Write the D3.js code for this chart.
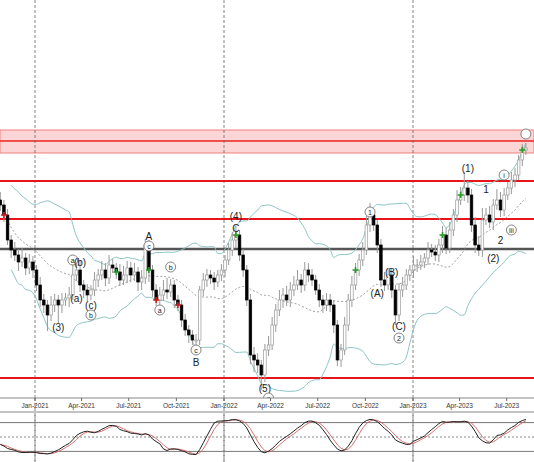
<!DOCTYPE html>
<html><head><meta charset="utf-8">
<script src="https://cdn.jsdelivr.net/npm/d3@7"></script>
<style>body{margin:0;background:#fff}text{font-family:"Liberation Sans",Arial,sans-serif}</style>
</head><body><svg id="c" width="534" height="462"></svg>
<script>
// weekly closes (price units), from 26 Oct 2020
const closes = [
  29.5,28.5,26.0,25.0,24.5, 23.8,24.2,23.2,23.8,23.0,
  21.5,20.0,19.5,18.5,19.5, 20.0,19.5,20.0,20.2,20.5,
  22.5,23.0,21.5,21.0,20.5, 21.0,22.0,22.5,23.0,22.2,
  23.5,23.2,22.8,22.0,22.5, 23.2,22.5,22.8,21.8,22.2,
  25.5,23.0,21.0,20.0,20.5, 21.0,20.8,21.5,20.0,19.5,
  18.0,17.0,16.5,16.0,16.0, 21.0,22.0,22.5,22.2,21.8,
  22.5,23.0,24.0,25.0,26.0, 26.5,24.5,23.0,20.0,14.5,
  14.0,13.5,12.5,15.0,15.5, 17.5,19.0,20.0,20.5,20.0,
  21.0,21.5,22.0,21.5,23.0, 22.5,22.0,21.0,20.0,19.5,
  20.0,19.5,17.5,14.0,15.0, 17.5,20.0,21.5,23.0,24.0,
  25.0,27.5,28.5,27.5,25.5, 22.0,21.5,22.5,21.0,18.5,
  21.0,21.5,22.5,23.0,23.5, 23.5,23.8,24.2,25.0,24.8,
  24.5,25.5,26.5,25.2,27.0, 28.5,30.0,30.5,31.2,30.5,
  27.5,25.5,25.0,28.0,28.5, 27.8,29.5,30.0,29.0,30.5,
  31.2,32.0,32.5,34.0,35.0, 35.2
];
const upWick = [
  .8,.5,.6,.5,.8, .6,1.0,.5,.8,.6, .5,.8,.6,.5,.9, .6,.5,.7,.5,.8,
  1.2,.8,.9,.5,.6, .5,.8,.6,.9,.7, 1.0,.6,.5,.8,.9, .7,.6,.9,.5,.8,
  .6,.5,.5,.6,.8, 1.0,1.2,.6,.5,.5, .5,.6,.5,.5,.6, .4,.7,.6,.5,.6,
  .5,.6,.5,.7,.8, .9,.5,.6,.5,.6, .8,.7,.5,.6,.9, .8,.6,1.0,.7,.9,
  .8,.9,1.0,.6,.8, .7,.6,.5,.6,.5, .7,.6,.5,.5,.6, .8,.6,.9,.7,.6,
  .8,.9,1.2,.6,.5, .6,.8,.7,.6,.5, .7,.8,.6,.5,.9, .6,.7,.5,.8,.6,
  .7,.6,.9,.7,.8, .6,1.0,.8,1.6,.7, .6,.8,.9,1.2,.7, .9,.6,1.1,.8,.7,
  .6,.8,.7,.5,.6, .5
];
const dnWick = [
  .6,.7,.5,.8,.6, .9,.5,.7,.6,.8, .6,.7,.8,1.6,.6, .7,1.8,.8,.6,.9,
  .5,.6,.7,.8,.6, .5,.6,.7,.5,.8, .6,.5,.7,.6,.5, .8,.7,.6,.9,.8,
  .6,1.2,.7,.6,.5, .6,.7,.5,.8,.6, .7,.6,.8,.5,.6, .5,.6,.7,.6,.8,
  .5,.6,.7,.5,.6, .8,.6,.7,.6,.9, 1.2,.8,1.5,.7,.6, .5,.7,.6,.8,.6,
  .7,.6,.5,.8,.6, .7,.6,.5,.7,.8, .6,.7,.8,.6,.7, .5,.6,.7,.5,.6,
  .6,.5,.7,.6,.8, .7,.6,.5,.8,1.0, .6,.7,.5,.6,.8, .7,.5,.6,.7,.5,
  .6,.7,.8,.6,.5, .6,.7,.5,.6,.8, .7,.8,.6,.7,.5, .6,.8,.5,.7,.6,
  .5,.6,.7,.5,.6, .5
];
const levelsRed = [31.9, 28.1, 12.2];
const levelBlack = 25.1;
const zoneTop = [37.0, 35.9], zoneBot = [35.9, 34.7];
const monthTicks = ["2021-01-01","2021-04-01","2021-07-01","2021-10-01","2022-01-01","2022-04-01","2022-07-01","2022-10-01","2023-01-01","2023-04-01","2023-07-01"];
const yearLines = ["2021-01-01","2022-01-01","2023-01-01"];
// wave labels: week index, price, text, circled
const labels = [
  [16,17.3,"(3)",0],[20,24.0,"a",1],[22,23.8,"(b)",0],[21,20.2,"(a)",0],[25,19.5,"(c)",0],[25,18.5,"b",1],
  [41,26.4,"A",0],[41,25.4,"c",1],[47,23.3,"b",1],[44,19.0,"a",1],[54,15.0,"c",1],[54,13.8,"B",0],
  [65,28.4,"(4)",0],[65,27.2,"C",0],[73,11.2,"(5)",0],[74,10.2,"c",1],
  [102,28.8,"1",1],[104,20.7,"(A)",0],[108,22.8,"(B)",0],[110,17.4,"(C)",0],[110,16.2,"2",1],
  [129,33.2,"(1)",0],[134,31.1,"1",0],[138,26.0,"2",0],[139,32.5,"i",1],[136,24.2,"(2)",0],[141,27.0,"iii",1],
  [145,36.6,"",1]
];
const greenMarks = [32,41,65,98,122,127,144];
const redMarks = [1,43,49];

const svg = d3.select("#c");
const W = 534, chartBottom = 398;
const t0 = new Date(2020,9,26);
const dates = closes.map((d,i) => d3.timeDay.offset(t0, 7*i));
const x = d3.scaleTime().domain([new Date(2021,0,1), new Date(2022,0,1)]).range([35,224]);
const y = d3.scaleLinear().domain([10.2,50]).range([chartBottom,0]);
const yo = d3.scaleLinear().domain([0,100]).range([461,413]);

const candles = closes.map((c,i) => {
  const o = i ? closes[i-1] : c + 0.5;
  return {i, d: dates[i], o, c, h: Math.max(o,c)+upWick[i], l: Math.min(o,c)-dnWick[i]};
});

// zones
[zoneTop, zoneBot].forEach(z => {
  svg.append("rect").attr("x",0).attr("width",W).attr("y",y(z[0])).attr("height",y(z[1])-y(z[0]))
    .attr("fill","#fcd6d6").attr("stroke","#f08080").attr("stroke-width",1);
});
svg.append("line").attr("x1",0).attr("x2",W).attr("y1",y(35.9)).attr("y2",y(35.9)).attr("stroke","#e33").attr("stroke-width",1.5);

// year lines
yearLines.forEach(s => {
  const xx = x(new Date(s));
  svg.append("line").attr("x1",xx).attr("x2",xx).attr("y1",0).attr("y2",462)
    .attr("stroke","#666").attr("stroke-dasharray","3,2").attr("stroke-width",0.8);
});

levelsRed.forEach(v => svg.append("line").attr("x1",0).attr("x2",W).attr("y1",y(v)).attr("y2",y(v)).attr("stroke","#e8141a").attr("stroke-width",2.2));
svg.append("line").attr("x1",0).attr("x2",W).attr("y1",y(levelBlack)).attr("y2",y(levelBlack)).attr("stroke","#555").attr("stroke-width",2.4);

// bollinger
const N = 20;
const bb = candles.map((d,i) => {
  const win = closes.slice(Math.max(0,i-N+1), i+1);
  const m = d3.mean(win), s = d3.deviation(win) || 0.8;
  return {d: d.d, m, u: m+2*s, l: m-2*s};
});
const ln = k => d3.line().x(d => x(d.d)).y(d => y(d[k])).curve(d3.curveMonotoneX);
svg.append("path").datum(bb.slice(3)).attr("d",ln("u")).attr("fill","none").attr("stroke","#8cc4c4");
svg.append("path").datum(bb.slice(3)).attr("d",ln("l")).attr("fill","none").attr("stroke","#8cc4c4");
svg.append("path").datum(bb).attr("d",ln("m")).attr("fill","none").attr("stroke","#888").attr("stroke-dasharray","2,2").attr("stroke-width",0.8);

// candles
const g = svg.append("g");
g.selectAll("line.w").data(candles).join("line")
  .attr("x1",d=>x(d.d)).attr("x2",d=>x(d.d)).attr("y1",d=>y(d.h)).attr("y2",d=>y(d.l)).attr("stroke","#999");
g.selectAll("rect").data(candles).join("rect")
  .attr("x",d=>x(d.d)-1.3).attr("width",2.6)
  .attr("y",d=>y(Math.max(d.o,d.c))).attr("height",d=>Math.max(1,Math.abs(y(d.o)-y(d.c))))
  .attr("fill",d=>d.c>=d.o?"#fff":"#000").attr("stroke",d=>d.c>=d.o?"#999":"#000").attr("stroke-width",0.7);

// markers
const mark = (i,col) => {
  const cx = x(dates[i]), cy = y(closes[i]);
  svg.append("path").attr("d",`M${cx-3},${cy}H${cx+3}M${cx},${cy-3}V${cy+3}`).attr("stroke",col).attr("stroke-width",1.6);
};
greenMarks.forEach(i => mark(i,"#2a9a2a"));
redMarks.forEach(i => mark(i,"#d02020"));

// labels
labels.forEach(([i,p,t,c]) => {
  const cx = x(dates[i]), cy = y(p);
  if (c) svg.append("circle").attr("cx",cx).attr("cy",cy).attr("r",5).attr("fill","#fff").attr("stroke","#666").attr("stroke-width",0.8);
  svg.append("text").attr("x",cx).attr("y",cy+ (c?2.5:3.5)).attr("text-anchor","middle")
    .attr("font-size",c?7:10).attr("fill","#222").text(t);
});

// date axis
svg.append("rect").attr("x",0).attr("y",chartBottom).attr("width",W).attr("height",15).attr("fill","#fff");
svg.append("line").attr("x1",0).attr("x2",W).attr("y1",chartBottom).attr("y2",chartBottom).attr("stroke","#888");
svg.append("line").attr("x1",0).attr("x2",W).attr("y1",412).attr("y2",412).attr("stroke","#888");
monthTicks.forEach(s => {
  const xx = x(new Date(s));
  svg.append("line").attr("x1",xx).attr("x2",xx).attr("y1",chartBottom).attr("y2",chartBottom+3).attr("stroke","#666");
  svg.append("text").attr("x",xx).attr("y",chartBottom+10).attr("text-anchor","middle").attr("font-size",6.5).attr("fill","#333")
    .text(d3.timeFormat("%b-%Y")(new Date(s)));
});
yearLines.forEach(s => { const xx = x(new Date(s));
  svg.append("line").attr("x1",xx).attr("x2",xx).attr("y1",chartBottom).attr("y2",462).attr("stroke","#666").attr("stroke-dasharray","3,2").attr("stroke-width",0.8); });

// stochastic
const K = candles.map((d,i) => {
  const w = candles.slice(Math.max(0,i-13), i+1);
  const hh = d3.max(w,e=>e.h), ll = d3.min(w,e=>e.l);
  return 8 + 84*(d.c-ll)/(hh-ll);
});
const sm = (a,n) => a.map((v,i) => d3.mean(a.slice(Math.max(0,i-n+1), i+1)));
const k = sm(K,5), dd = sm(k,3);
[80,20].forEach(v => svg.append("line").attr("x1",0).attr("x2",W).attr("y1",yo(v)).attr("y2",yo(v)).attr("stroke","#777"));
svg.append("line").attr("x1",0).attr("x2",W).attr("y1",yo(50)).attr("y2",yo(50)).attr("stroke","#888").attr("stroke-dasharray","2,2");
const ol = d3.line().x((v,i)=>x(dates[i])).y(v=>yo(v));
svg.append("path").datum(dd).attr("d",ol).attr("fill","none").attr("stroke","#d06060").attr("stroke-width",0.9);
svg.append("path").datum(k).attr("d",ol).attr("fill","none").attr("stroke","#222").attr("stroke-width",1);
</script></body></html>
